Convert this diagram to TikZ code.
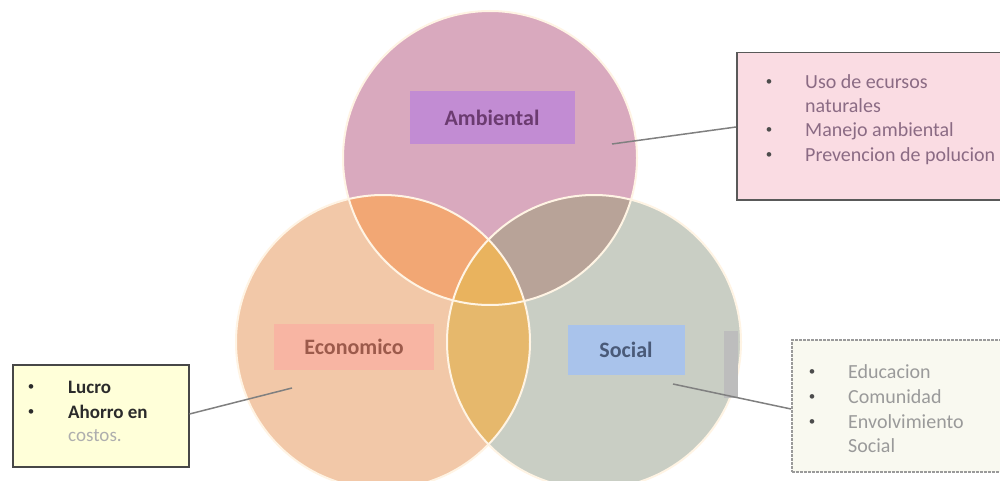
\documentclass[tikz,border=0pt]{standalone}
\usepackage{fontspec}
\setmainfont{Carlito}
\definecolor{ambC}{HTML}{D9A9BE}
\definecolor{ecoC}{HTML}{F2C8A8}
\definecolor{socC}{HTML}{C9CEC4}
\definecolor{aeC}{HTML}{F2A774}
\definecolor{asC}{HTML}{B8A398}
\definecolor{esC}{HTML}{E6B86C}
\definecolor{aesC}{HTML}{E9B35E}
\definecolor{edgeC}{HTML}{FFF4E4}
\definecolor{ambBox}{HTML}{C28CD3}
\definecolor{ambTxt}{HTML}{6B3B70}
\definecolor{ecoBox}{HTML}{F8B5A3}
\definecolor{ecoTxt}{HTML}{9C5A4B}
\definecolor{socBox}{HTML}{A9C3EB}
\definecolor{socTxt}{HTML}{4A5A78}
\definecolor{cAfill}{HTML}{FADCE3}
\definecolor{cAtxt}{HTML}{8B6B84}
\definecolor{cEfill}{HTML}{FFFFD9}
\definecolor{cEtxt}{HTML}{2B2B2B}
\definecolor{cSfill}{HTML}{F9F9F0}
\definecolor{cStxt}{HTML}{9A9A9A}
\definecolor{lineC}{HTML}{808080}
\definecolor{stripC}{HTML}{BDBDBD}
\begin{document}
\begin{tikzpicture}[x=1pt,y=-1pt,
  ring/.style={draw=edgeC,line width=2pt},
  labelbox/.style={rectangle,inner sep=0pt,font=\fontsize{22}{26}\selectfont\bfseries},
  linetxt/.style={anchor=base west,inner sep=0pt},
  bul/.style={anchor=base,inner sep=0pt,font=\fontsize{13}{15}\selectfont},
  conn/.style={draw=lineC,line width=1.5pt}]
\useasboundingbox (0,0) rectangle (1000,481);
\fill[white] (0,0) rectangle (1000,481);
\def\rr{147pt}
\coordinate (cA) at (490,158);
\coordinate (cE) at (383,342);
\coordinate (cS) at (594,342);
% circles
\fill[ambC] (cA) circle[radius=\rr];
\fill[ecoC] (cE) circle[radius=\rr];
\fill[socC] (cS) circle[radius=\rr];
\begin{scope}\clip (cA) circle[radius=\rr]; \fill[aeC] (cE) circle[radius=\rr];\end{scope}
\begin{scope}\clip (cA) circle[radius=\rr]; \fill[asC] (cS) circle[radius=\rr];\end{scope}
\begin{scope}\clip (cE) circle[radius=\rr]; \fill[esC] (cS) circle[radius=\rr];\end{scope}
\begin{scope}\clip (cA) circle[radius=\rr]; \clip (cE) circle[radius=\rr]; \fill[aesC] (cS) circle[radius=\rr];\end{scope}
\draw[ring] (cA) circle[radius=\rr];
\draw[ring] (cE) circle[radius=\rr];
\draw[ring] (cS) circle[radius=\rr];
% grey strip at the right edge of the Social circle
\fill[stripC] (724,331) rectangle (738,398);
% labels
\node[labelbox,fill=ambBox,minimum width=165pt,minimum height=53pt,text=ambTxt] (amb) at (492,118) {Ambiental};
\node[labelbox,fill=ecoBox,minimum width=160pt,minimum height=46pt,text=ecoTxt] (eco) at (354,347) {Economico};
\node[labelbox,fill=socBox,minimum width=117pt,minimum height=50pt,text=socTxt] (soc) at (626,350) {Social};
% callout boxes
\node[rectangle,draw=black!65,line width=1.5pt,fill=cAfill,minimum width=270pt,minimum height=147pt,anchor=north west,inner sep=0pt] (boxA) at (736,52) {};
\node[rectangle,draw=black!72,line width=1.5pt,fill=cEfill,minimum width=176pt,minimum height=102pt,anchor=north west,inner sep=0pt] (boxE) at (12,364) {};
\node[rectangle,draw=cStxt,line width=1.5pt,dash pattern=on 3pt off 1pt,fill=cSfill,minimum width=215pt,minimum height=132pt,anchor=north west,inner sep=0pt] (boxS) at (791,339) {};
% callout texts A
\begin{scope}[font=\fontsize{20}{24}\selectfont,text=cAtxt]
\node[bul,text=black!70] (bA1) at (769,86) {\textbullet};
\node[linetxt] (tA1) at (805,89) {Uso de ecursos};
\node[linetxt] (tA2) at (805,113) {naturales};
\node[bul,text=black!70] (bA3) at (769,134) {\textbullet};
\node[linetxt] (tA3) at (805,137) {Manejo ambiental};
\node[bul,text=black!70] (bA4) at (769,159) {\textbullet};
\node[linetxt] (tA4) at (805,162) {Prevencion de polucion};
\end{scope}
% callout texts E
\begin{scope}[font=\fontsize{19}{22}\selectfont\bfseries,text=cEtxt]
\node[bul] (bE1) at (31,390) {\textbullet};
\node[linetxt] (tE1) at (68,393) {Lucro};
\node[bul] (bE2) at (31,415) {\textbullet};
\node[linetxt] (tE2) at (68,418) {Ahorro en};
\node[linetxt,text=cStxt!80,font=\fontsize{19}{22}\selectfont] (tE3) at (68,441) {costos.};
\end{scope}
% callout texts S
\begin{scope}[font=\fontsize{20}{24}\selectfont,text=cStxt]
\node[bul,text=black!70] (bS1) at (812,375) {\textbullet};
\node[linetxt] (tS1) at (848,378) {Educacion};
\node[bul,text=black!70] (bS2) at (812,400) {\textbullet};
\node[linetxt] (tS2) at (848,403) {Comunidad};
\node[bul,text=black!70] (bS3) at (812,425) {\textbullet};
\node[linetxt] (tS3) at (848,428) {Envolvimiento};
\node[linetxt] (tS4) at (848,452) {Social};
\end{scope}
% connectors
\coordinate (pA) at (612,144);
\coordinate (pE) at (292,388);
\coordinate (pS) at (673,384);
\draw[conn] (pA) -- (boxA.west |- 0,127);
\draw[conn] (pE) -- (boxE.east |- 0,414);
\draw[conn] (pS) -- (boxS.west |- 0,409);
\end{tikzpicture}
\end{document}
